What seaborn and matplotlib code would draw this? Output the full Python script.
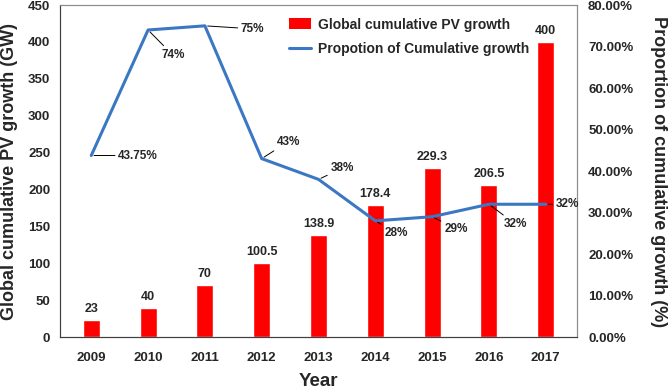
import matplotlib
matplotlib.use('Agg')
import matplotlib.pyplot as plt
import seaborn as sns
import pandas as pd
import numpy as np
from matplotlib.patches import Patch
from matplotlib.lines import Line2D

years = ['2009', '2010', '2011', '2012', '2013', '2014', '2015', '2016', '2017']
pv_growth = [23, 40, 70, 100.5, 138.9, 178.4, 229.3, 206.5, 400]
bar_labels = ['23', '40', '70', '100.5', '138.9', '178.4', '229.3', '206.5', '400']
proportion = [43.75, 74, 75, 43, 38, 28, 29, 32, 32]
prop_labels = ['43.75%', '74%', '75%', '43%', '38%', '28%', '29%', '32%', '32%']

df = pd.DataFrame({'Year': years, 'PV': pv_growth, 'Prop': proportion})
df['pos'] = np.arange(len(df))

sns.set_style('white')
plt.rcParams['font.family'] = ['Liberation Sans', 'DejaVu Sans']
plt.rcParams['font.weight'] = 'bold'

fig = plt.figure(figsize=(6.69, 3.91), dpi=100)
ax = fig.add_axes([0.0897, 0.138, 0.7728, 0.849])

sns.barplot(data=df, x='Year', y='PV', color='#ff0000', saturation=1, width=0.3, ax=ax)
for i, v in enumerate(pv_growth):
    ax.annotate(bar_labels[i], xy=(i, v), xytext=(0, 5), textcoords='offset pixels',
                ha='center', va='bottom', fontsize=9, fontweight='bold')

ax.set_ylim(0, 450)
ax.set_yticks(range(0, 451, 50))
ax.set_xlim(-0.55, 8.55)
ax.set_xlabel('Year', fontsize=13.5, fontweight='bold', va='center')
ax.xaxis.set_label_coords(0.5, -0.133)
ax.set_ylabel('Global cumulative PV growth (GW)', fontsize=13, fontweight='bold', va='center')
ax.yaxis.set_label_coords(-0.097, 0.5)
ax.tick_params(axis='both', labelsize=9.5, length=0)
ax.tick_params(axis='x', pad=11)
ax.tick_params(axis='y', pad=7)
for t in ax.get_xticklabels() + ax.get_yticklabels():
    t.set_fontweight('bold')

ax2 = ax.twinx()
sns.lineplot(data=df, x='pos', y='Prop', color='#3b78c3', linewidth=2.2, ax=ax2)
ax2.set_ylim(0, 80)
ax2.set_yticks(range(0, 81, 10))
ax2.set_yticklabels([f'{v}.00%' for v in range(0, 81, 10)])
ax2.tick_params(axis='y', labelsize=9.5, length=0, pad=8)
for t in ax2.get_yticklabels():
    t.set_fontweight('bold')
ax2.set_ylabel('Proportion of cumulative growth (%)', fontsize=13, fontweight='bold',
               rotation=270, va='center')
ax2.yaxis.set_label_coords(1.157, 0.5)
ax2.set_xlabel('')
ax2.set_xlim(-0.55, 8.55)

offsets = [(27, 0), (13, -25), (36, -3), (15, 17), (12, 11), (9, -12), (12, -12), (15, -20), (10, 0)]
for i, p in enumerate(proportion):
    ax2.annotate(prop_labels[i], xy=(i, p), xytext=offsets[i], textcoords='offset pixels',
                 ha='left', va='center', fontsize=8.5, fontweight='bold',
                 arrowprops=dict(arrowstyle='-', color='black', lw=0.7, shrinkA=0, shrinkB=2))

for a in (ax, ax2):
    a.spines['top'].set_color('#8c8c8c')
    a.spines['right'].set_color('#8c8c8c')
    a.spines['left'].set_color('#404040')
    a.spines['bottom'].set_color('#404040')

handles = [Patch(facecolor='#ff0000', edgecolor='none'),
           Line2D([0], [0], color='#3b78c3', lw=2.2)]
ax2.legend(handles, ['Global cumulative PV growth', 'Propotion of Cumulative growth'],
           loc='upper left', bbox_to_anchor=(0.418, 1.0), frameon=False,
           prop={'size': 10, 'weight': 'bold'}, handlelength=1.6, handleheight=0.8,
           labelspacing=0.75, handletextpad=0.5)

fig.savefig('out.png', dpi=100)
